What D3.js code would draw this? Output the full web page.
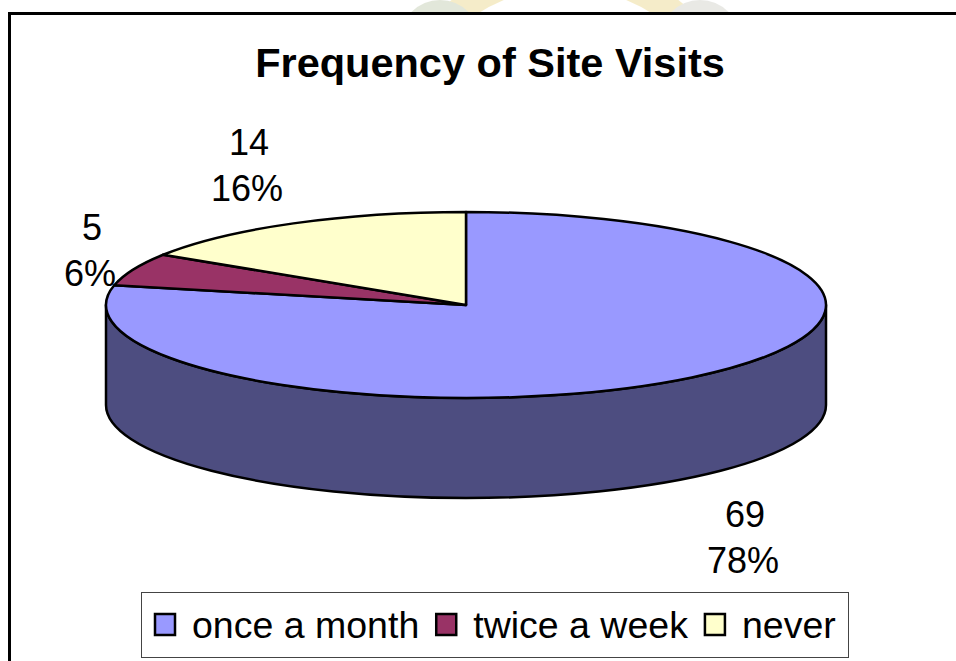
<!DOCTYPE html>
<html lang="en-US">
<head>
<meta charset="UTF-8">
<title>Frequency of Site Visits</title>
<style>
  body { margin: 0; background: #fff; }
  svg { display: block; font-family: "Liberation Sans", Arial, sans-serif; }
  .edge { stroke: #000; stroke-width: 2.5px; stroke-linejoin: round; }
</style>
</head>
<body>
<div id="viz"></div>
<script src="https://d3js.org/d3.v7.min.js"></script>
<script>

var categories = ["once a month", "twice a week", "never"];
var counts = [69, 5, 14];
var percentLabels = ["78%", "6%", "16%"];
var topColors = ["#9999ff", "#993366", "#ffffcc"];
var sideColors = ["#4d4d80", "#4d1a33", "#808066"];

var width = 956, height = 661;

// 3d pie geometry
var cx = 466, cy = 305, rx = 360, ry = 93, depth = 100;

var svg = d3.select("#viz").append("svg")
    .attr("width", width)
    .attr("height", height);

// faint watermark peeking above the frame
var wm = svg.append("g").attr("opacity", 0.4);
wm.append("circle").attr("cx", 565).attr("cy", 150).attr("r", 175)
    .attr("fill", "none").attr("stroke", "#e8d27a").attr("stroke-width", 26);
wm.append("circle").attr("cx", 440).attr("cy", 40).attr("r", 40)
    .attr("fill", "#b9c4a4");
wm.append("circle").attr("cx", 700).attr("cy", 40).attr("r", 40)
    .attr("fill", "#c9c9c0");

// white chart area with the outer frame
svg.append("rect")
    .attr("x", 9.5).attr("y", 13.5)
    .attr("width", width + 20).attr("height", height + 20)
    .attr("fill", "#fff")
    .attr("stroke", "#000")
    .attr("stroke-width", 3);

svg.append("text")
    .attr("x", 490).attr("y", 77)
    .attr("text-anchor", "middle")
    .attr("font-size", 41.5)
    .attr("font-weight", "bold")
    .text("Frequency of Site Visits");

var pie = d3.pie().sort(null).value(function(d) { return d; });
var arcs = pie(counts);

function pt(a, dy) {
    return [cx + rx * Math.sin(a), cy - ry * Math.cos(a) + (dy || 0)];
}

function topPath(d) {
    var s = pt(d.startAngle), e = pt(d.endAngle);
    var large = (d.endAngle - d.startAngle) > Math.PI ? 1 : 0;
    return "M" + cx + "," + cy + "L" + s + "A" + rx + "," + ry + " 0 " + large + " 1 " + e + "Z";
}

function sidePath(d) {
    var a0 = Math.max(d.startAngle, Math.PI / 2);
    var a1 = Math.min(d.endAngle, 3 * Math.PI / 2);
    if (a1 <= a0) return null;
    var s = pt(a0), e = pt(a1), sb = pt(a0, depth), eb = pt(a1, depth);
    return "M" + s + "A" + rx + "," + ry + " 0 0 1 " + e +
        "L" + eb + "A" + rx + "," + ry + " 0 0 0 " + sb + "Z";
}

var pieG = svg.append("g");

pieG.selectAll("path.side")
    .data(arcs.filter(function(d) { return sidePath(d); }))
    .enter().append("path")
    .attr("class", "side edge")
    .attr("d", sidePath)
    .attr("fill", function(d) { return sideColors[d.index]; });

pieG.selectAll("path.top")
    .data(arcs)
    .enter().append("path")
    .attr("class", "top edge")
    .attr("d", topPath)
    .attr("fill", function(d) { return topColors[d.index]; });

// data labels (value + percent), placed outside the slice
var labelPos = [[745, 527], [92, 240], [249, 155]];
var lab = svg.append("g").attr("font-size", 36).attr("text-anchor", "middle");
arcs.forEach(function(d, i) {
    var p = labelPos[i];
    var t = lab.append("text").attr("x", p[0]).attr("y", p[1]);
    t.append("tspan").attr("x", p[0]).text(counts[i]);
    t.append("tspan").attr("x", p[0] - 2).attr("dy", 46).text(percentLabels[i]);
});

// legend
var legend = svg.append("g");
legend.append("rect")
    .attr("x", 141.5).attr("y", 592.5)
    .attr("width", 707).attr("height", 65)
    .attr("fill", "#fff")
    .attr("stroke", "#444")
    .attr("stroke-width", 1);

var lx = 155;
categories.forEach(function(c, i) {
    legend.append("rect")
        .attr("x", lx).attr("y", 614)
        .attr("width", 20).attr("height", 21)
        .attr("fill", topColors[i])
        .attr("stroke", "#000")
        .attr("stroke-width", 2.5);
    var t = legend.append("text")
        .attr("x", lx + 37).attr("y", 638)
        .attr("font-size", 37.5)
        .text(c);
    lx = lx + 37 + t.node().getComputedTextLength() + 17;
});

</script>
</body>
</html>
